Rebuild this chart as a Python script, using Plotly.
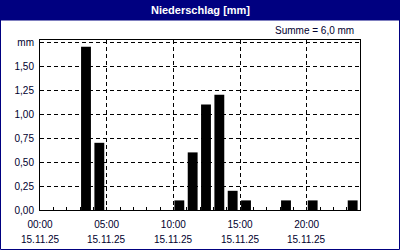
import plotly.graph_objects as go

hours = [3, 4, 10, 11, 12, 13, 14, 15, 18, 20, 23]
precip = [1.7, 0.7, 0.1, 0.6, 1.1, 1.2, 0.2, 0.1, 0.1, 0.1, 0.1]
x_tickvals = [0, 5, 10, 15, 20]
x_ticktext = ["00:00", "05:00", "10:00", "15:00", "20:00"]
x_datetext = ["15.11.25", "15.11.25", "15.11.25", "15.11.25", "15.11.25"]
y_tickvals = [0, 0.25, 0.5, 0.75, 1.0, 1.25, 1.5, 1.75]
y_ticktext = ["0,00", "0,25", "0,50", "0,75", "1,00", "1,25", "1,50", "mm"]
title_text = "Niederschlag [mm]"
sum_text = "Summe = 6,0 mm"

W, H = 400, 250
L, R, T, B = 40, 40, 40, 40
pw, ph = W - L - R, H - T - B
TXT = "#00002e"
NAVY = "#000080"
FONT = "Liberation Sans"

def px(x):
    return (x - L) / pw

def py(y):
    return (H - B - y) / ph

fig = go.Figure()
fig.add_trace(go.Bar(
    x=[h + 0.45 for h in hours], y=precip, width=0.74,
    marker=dict(color="black", line=dict(width=0)),
    hoverinfo="skip",
))

annotations = [
    dict(text="<b>" + title_text + "</b>", xref="paper", yref="paper",
         x=px(200), y=py(10.5), xanchor="center", yanchor="middle",
         showarrow=False, font=dict(family=FONT, size=11, color="white")),
    dict(text=sum_text, xref="paper", yref="paper",
         x=px(356), y=py(31), xanchor="right", yanchor="middle",
         showarrow=False, font=dict(family=FONT, size=10, color=TXT)),
]
for xv, dt in zip(x_tickvals, x_datetext):
    annotations.append(dict(text=dt, xref="x", yref="paper", x=xv, y=py(239.5),
                            xanchor="center", yanchor="middle", showarrow=False,
                            font=dict(family=FONT, size=10, color=TXT)))

fig.update_layout(
    width=W, height=H,
    margin=dict(l=L, r=R, t=T, b=B, pad=0),
    paper_bgcolor="white", plot_bgcolor="white",
    showlegend=False,
    font=dict(family=FONT, size=10, color=TXT),
    xaxis=dict(
        range=[0, 24], tickvals=x_tickvals, ticktext=x_ticktext,
        ticks="inside", ticklen=3, tickcolor="black", tickwidth=1,
        minor=dict(dtick=1, tick0=0, ticks="inside", ticklen=3, tickcolor="black", showgrid=False),
        showgrid=True, gridcolor="black", gridwidth=1, griddash="4px,3px",
        showline=True, linecolor="black", linewidth=1, mirror=True,
        zeroline=False, fixedrange=True, ticklabelstandoff=5,
        tickfont=dict(family=FONT, size=10, color=TXT),
    ),
    yaxis=dict(
        range=[0, ph / 96.0], tickvals=y_tickvals, ticktext=y_ticktext,
        ticks="", showgrid=True, gridcolor="black", gridwidth=1, griddash="4px,3px",
        showline=True, linecolor="black", linewidth=1, mirror=True,
        zeroline=False, fixedrange=True, ticklabelstandoff=3,
        tickfont=dict(family=FONT, size=10, color=TXT),
    ),
    shapes=[
        dict(type="rect", xref="paper", yref="paper", layer="below",
             x0=px(0), x1=px(W), y0=py(20.5), y1=py(0),
             fillcolor=NAVY, line=dict(width=0)),
        dict(type="rect", xref="paper", yref="paper", layer="above",
             x0=px(0.5), x1=px(W - 0.5), y0=py(H - 0.5), y1=py(0.5),
             fillcolor="rgba(0,0,0,0)", line=dict(color=NAVY, width=1)),
    ],
    annotations=annotations,
)

fig.write_html("out.html")
